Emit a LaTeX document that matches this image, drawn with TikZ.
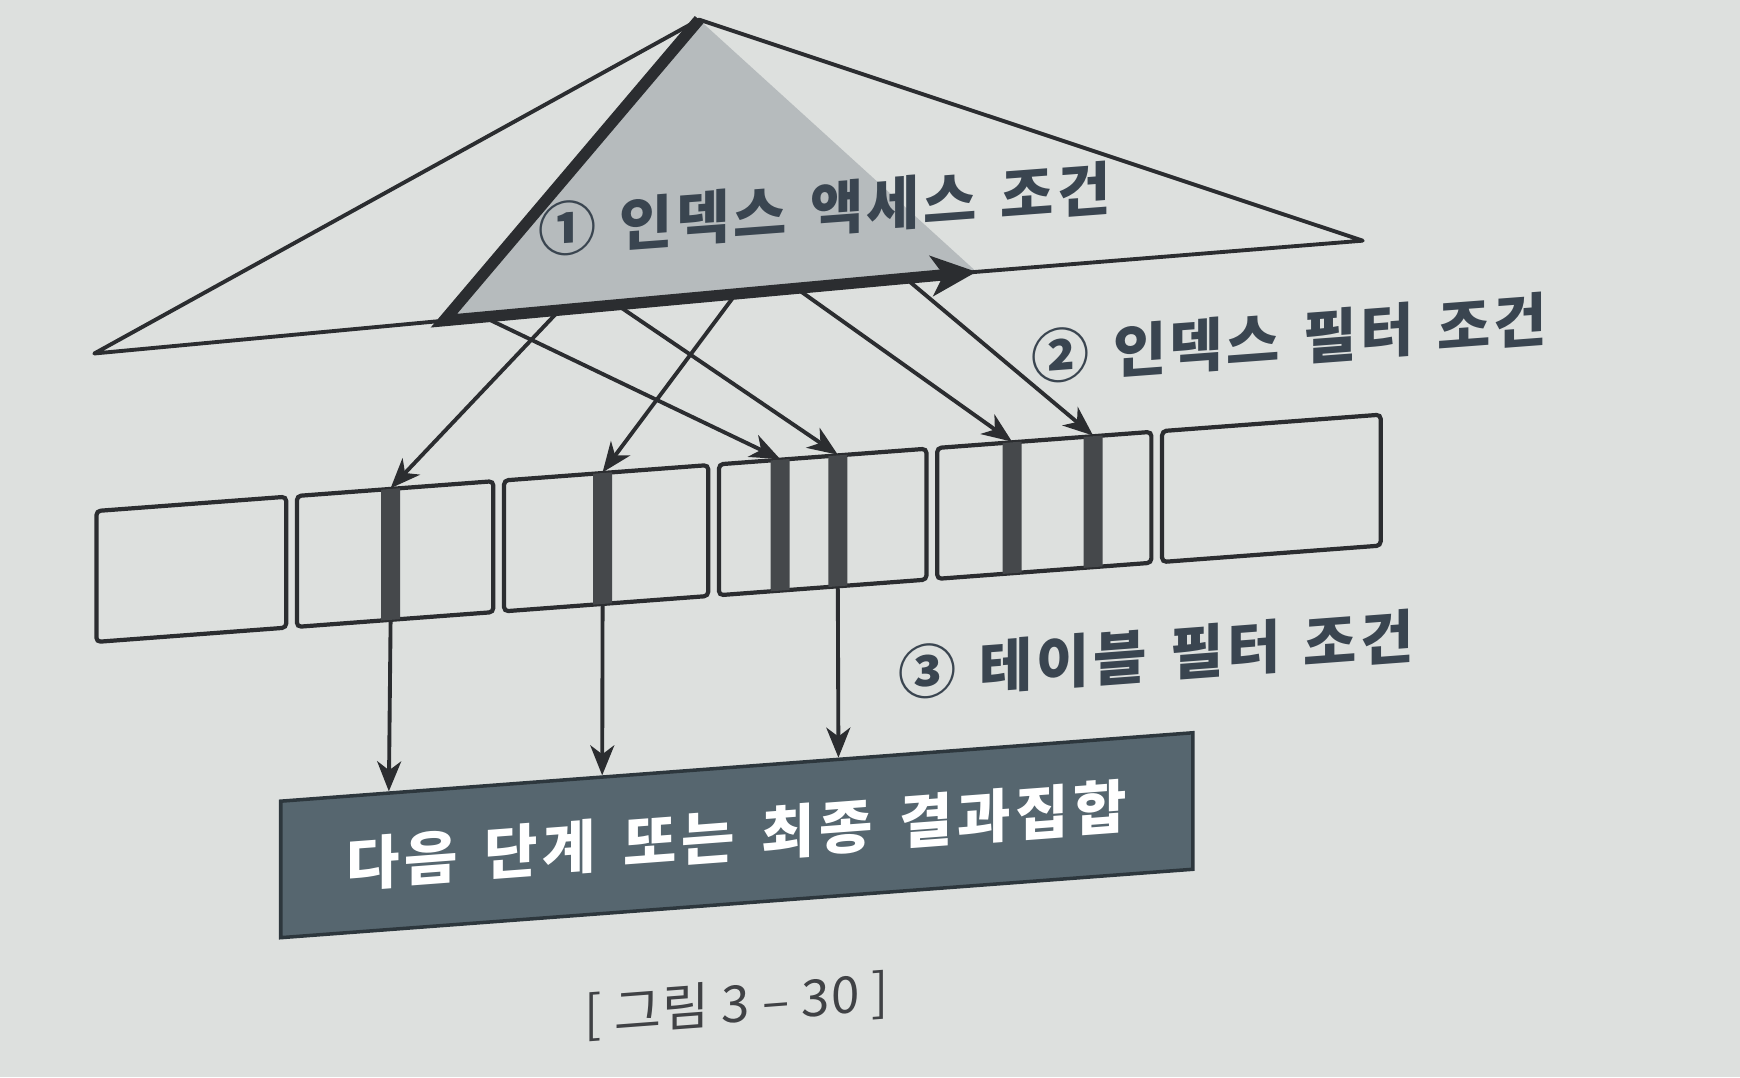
\documentclass[tikz,border=0pt]{standalone}
\usepackage{fontspec}
\setmainfont{Noto Sans CJK KR}
\newfontfamily\condfont{Noto Sans CJK KR}[LetterSpace=6, WordSpace=1.4]
\newfontfamily\resfont{Noto Sans CJK KR}[LetterSpace=8, WordSpace=1.5]
\newfontfamily\capfont{Noto Sans CJK KR}[LetterSpace=2]
\usepackage{tikz}
\usetikzlibrary{positioning,arrows.meta,calc}

\definecolor{paper}{HTML}{DDE0DE}
\definecolor{ink}{HTML}{2B2D30}
\definecolor{trishade}{HTML}{B6BBBD}
\definecolor{slotgray}{HTML}{45484B}
\definecolor{labelink}{HTML}{3A4550}
\definecolor{resfill}{HTML}{56666F}
\definecolor{resedge}{HTML}{2D373D}

\begin{document}
\begin{tikzpicture}[
    node distance=0.65mm,
    cell/.style={rectangle, draw=ink, line width=1.2pt, rounded corners=1.2pt, minimum height=1.309cm, inner sep=0pt},
    slot/.style={rectangle, fill=slotgray, minimum width=0.19cm, minimum height=1.309cm, inner sep=0pt},
    result/.style={rectangle, draw=resedge, line width=1pt, fill=resfill, text=white, minimum width=9.121cm, minimum height=1.365cm, font=\resfont\fontsize{16.5}{18}\selectfont\bfseries},
    cond/.style={text=labelink, font=\condfont\fontsize{16.5}{18}\selectfont\bfseries},
    thin edge/.style={draw=ink, line width=1.1pt, line join=round},
    thick edge/.style={draw=ink, line width=3.2pt, line join=miter},
    link/.style={draw=ink, line width=1.1pt, -{Stealth[length=3mm,width=2.4mm,inset=0.9mm]}}
]
\useasboundingbox (0,0) rectangle (17.40,10.775);
\fill[paper] (0,0) rectangle (17.40,10.775);

\begin{scope}[yslant=0.075, transform shape]

\coordinate (apex) at (6.991,10.054);
\coordinate (left) at (0.943,7.169);
\coordinate (low) at (4.439,7.235);
\coordinate (tip) at (9.765,7.324);
\coordinate (right) at (13.627,7.346);

\fill[trishade] (apex) -- (low) -- (tip) -- cycle;
\draw[thin edge] (apex) -- (left) -- (low) -- (tip) -- (right) -- cycle;
\draw[thick edge, -{Stealth[length=4.5mm,width=4mm,inset=1.2mm]}] (apex) -- (low) -- (tip);

\node[cond] (access) at (8.245,8.068) {① 인덱스 액세스 조건};
\node[cond] (ixfilter) at (12.895,6.425) {② 인덱스 필터 조건};
\node[cond] (tbfilter) at (11.563,3.362) {③ 테이블 필터 조건};

\node[cell, minimum width=1.898cm, anchor=west] (box1) at (0.943,4.938) {};
\node[cell, minimum width=1.964cm, right=of box1] (box2) {};
\node[cell, minimum width=2.042cm, right=of box2] (box3) {};
\node[cell, minimum width=2.075cm, right=of box3] (box4) {};
\node[cell, minimum width=2.142cm, right=of box4] (box5) {};
\node[cell, minimum width=2.186cm, right=of box5] (box6) {};

\node[slot] (bar1) at (3.906,4.938) {};
\node[slot] (bar2) at (6.026,4.938) {};
\node[slot] (bar3) at (7.801,4.938) {};
\node[slot] (bar4) at (8.378,4.938) {};
\node[slot] (bar5) at (10.120,4.938) {};
\node[slot] (bar6) at (10.931,4.938) {};

\coordinate (a1) at ($(low)!0.217!(tip)$);
\coordinate (a2) at ($(low)!0.075!(tip)$);
\coordinate (a3) at ($(low)!0.325!(tip)$);
\coordinate (a4) at ($(low)!0.548!(tip)$);
\coordinate (a5) at ($(low)!0.662!(tip)$);
\coordinate (a6) at ($(low)!0.867!(tip)$);

\draw[link] (a1) -- (bar1.north);
\draw[link] (a4) -- (bar2.north);
\draw[link] (a2) -- (bar3.north);
\draw[link] (a3) -- (bar4.north);
\draw[link] (a5) -- (bar5.north);
\draw[link] (a6) -- (bar6.north);

\node[result] (res) at (7.368,1.870) {다음 단계 또는 최종 결과집합};

\draw[link] (bar1.south) -- ($(res.north west)!0.120!(res.north east)$);
\draw[link] (bar2.south) -- ($(res.north west)!0.353!(res.north east)$);
\draw[link] (bar4.south) -- ($(res.north west)!0.611!(res.north east)$);

\node[text=ink!90, font=\capfont\fontsize{14.5}{16}\selectfont] (caption) at (7.368,0.170) {[ 그림 3 – 30 ]};

\end{scope}
\end{tikzpicture}
\end{document}
